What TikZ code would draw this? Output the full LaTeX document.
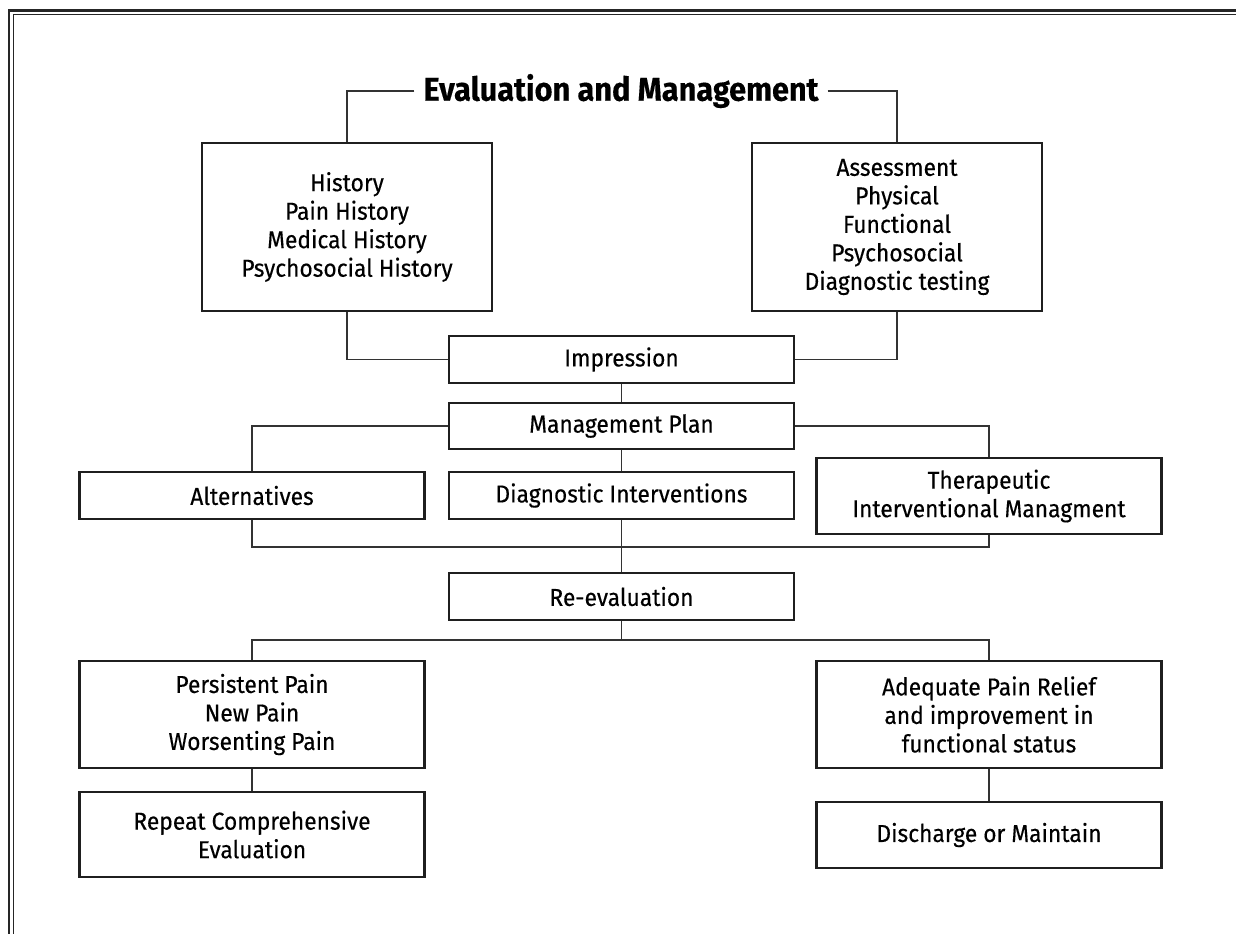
\documentclass[tikz,border=0pt]{standalone}
\usepackage{fontspec}
\setmainfont{Fira Sans}[FakeStretch=0.93, FakeBold=0.35]
\usetikzlibrary{positioning, arrows.meta}

\begin{document}
\begin{tikzpicture}[
		x=1pt, y=-1pt,
		box/.style={rectangle, draw=black!88, line width=2.6pt, inner sep=0pt, align=center, font=\fontsize{24.5}{28.5}\selectfont},
		widebox/.style={box, minimum width=345pt},
		histbox/.style={box, minimum width=290pt, minimum height=168pt},
		titletext/.style={inner xsep=9pt, font=\bfseries\fontsize{33}{36}\selectfont},
		link/.style={draw=black!80, line width=1.3pt},
		frameline/.style={draw=black!85}
	]

	\useasboundingbox (0,0) rectangle (1236,934);

	% frame, open on the right and at the bottom
	\draw[frameline, line width=2.2pt] (1236,10.5) -| (9,934);
	\draw[frameline, line width=1pt] (1236,14.5) -| (13,934);

	\node[titletext] (title) at (621,91) {Evaluation and Management};

	\node[histbox] (hist) at (347,227) {History\\Pain History\\Medical History\\Psychosocial History};
	\node[histbox] (assess) at (897,227) {Assessment\\Physical\\Functional\\Psychosocial\\Diagnostic testing};

	\node[widebox, minimum height=47pt] (impr) at (621.5,359.5) {Impression};
	\node[widebox, minimum height=46pt] (plan) at (621.5,426) {Management Plan};

	\node[widebox, minimum height=47pt] (alt) at (252,495.5) {Alternatives};
	\node[widebox, minimum height=47pt] (diag) at (621.5,495.5) {Diagnostic Interventions};
	\node[widebox, minimum height=76pt] (ther) at (989,496) {Therapeutic\\Interventional Managment};

	\node[widebox, minimum height=47pt] (reeval) at (621.5,596.5) {Re-evaluation};

	\node[widebox, minimum height=107pt] (persist) at (252,714.5) {Persistent Pain\\New Pain\\Worsenting Pain};
	\node[widebox, minimum height=107pt] (adeq) at (989,714.5) {Adequate Pain Relief\\and improvement in\\functional status};

	\node[widebox, minimum height=85pt] (repeat) at (252,834.5) {Repeat Comprehensive\\Evaluation};
	\node[widebox, minimum height=66pt] (disch) at (989,835) {Discharge or Maintain};

	\coordinate (join1) at (621.5,547);
	\coordinate (join2) at (621.5,640);

	\draw[link] (title.west) -| (hist.north);
	\draw[link] (title.east) -| (assess.north);

	\foreach \i in {hist, assess}
		\draw[link] (\i.south) |- (impr);

	\foreach \i/\j in {impr/plan, plan/diag, diag/reeval, persist/repeat, adeq/disch}
		\draw[link] (\i.south) -- (\j.north);

	\draw[link] (plan.west) -| (alt.north);
	\draw[link] (plan.east) -| (ther.north);

	\draw[link] (alt.south) |- (join1) -| (ther.south);
	\draw[link] (reeval.south) -- (join2);
	\draw[link] (persist.north) |- (join2) -| (adeq.north);

\end{tikzpicture}
\end{document}
